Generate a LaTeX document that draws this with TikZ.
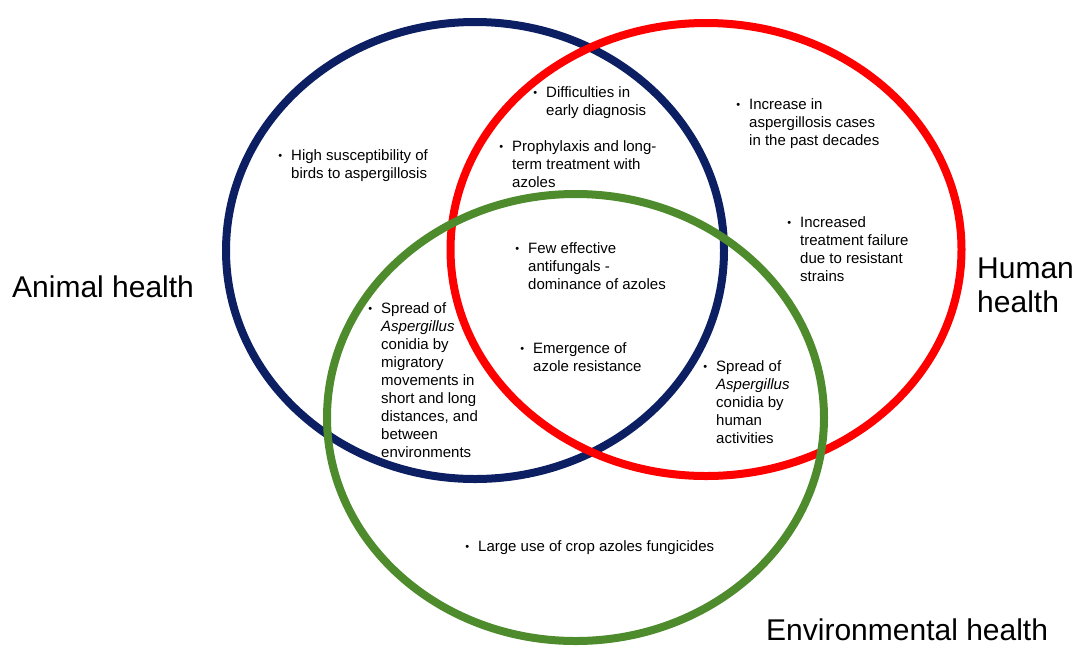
\documentclass[tikz,border=0pt]{standalone}
\usepackage{fontspec}
\setmainfont{Liberation Sans}
\definecolor{onenavy}{HTML}{0B1F62}
\definecolor{onered}{HTML}{FF0000}
\definecolor{onegreen}{HTML}{4E8B2C}
\usetikzlibrary{positioning}

\newcommand{\bul}{\llap{\raisebox{0.8pt}{\fontsize{11}{11}\selectfont\textbullet}\hspace{9pt}}}

\begin{document}
\begin{tikzpicture}[x=1pt, y=-1pt,
    ring/.style={line width=8pt},
    item/.style={anchor=north west, inner sep=0pt, align=left,
                 font=\fontsize{15}{18}\selectfont},
    title/.style={anchor=west, inner sep=0pt, align=left,
                  font=\fontsize{30}{34}\selectfont}
  ]
  \useasboundingbox (0,0) rectangle (1075,648);

  % the three health domains
  \draw[ring, onenavy] (475,250.5) ellipse [x radius=249, y radius=228.5];
  \draw[ring, onered] (706,249.5) ellipse [x radius=255.5, y radius=226.5];
  \draw[ring, onegreen] (575.5,417.5) ellipse [x radius=248.5, y radius=223.5];

  \node[title] (animal) at (12,287) {Animal health};
  \node[title] (human) at (977,285) {Human\\health};
  \node[title] (envir) at (766,630) {Environmental health};

  % animal only
  \node[item] (birds) at (291,149) {\bul High susceptibility of\\birds to aspergillosis};

  % animal and human
  \node[item] (diag) at (546,86) {\bul Difficulties in\\early diagnosis};
  \node[item] (proph) at (512,140) {\bul Prophylaxis and long-\\term treatment with\\azoles};

  % human only
  \node[item] (cases) at (749,98) {\bul Increase in\\aspergillosis cases\\in the past decades};
  \node[item] (fail) at (800,216) {\bul Increased\\treatment failure\\due to resistant\\strains};

  % all three
  \node[item] (few) at (528,242) {\bul Few effective\\antifungals -\\dominance of azoles};
  \node[item] (emerg) at (533,342) {\bul Emergence of\\azole resistance};

  % animal and environment
  \node[item] (spreada) at (381,302) {\bul Spread of\\\textit{Aspergillus}\\conidia by\\migratory\\movements in\\short and long\\distances, and\\between\\environments};

  % human and environment
  \node[item] (spreadh) at (716,360) {\bul Spread of\\\textit{Aspergillus}\\conidia by\\human\\activities};

  % environment only
  \node[item] (crop) at (478,540) {\bul Large use of crop azoles fungicides};
\end{tikzpicture}
\end{document}
